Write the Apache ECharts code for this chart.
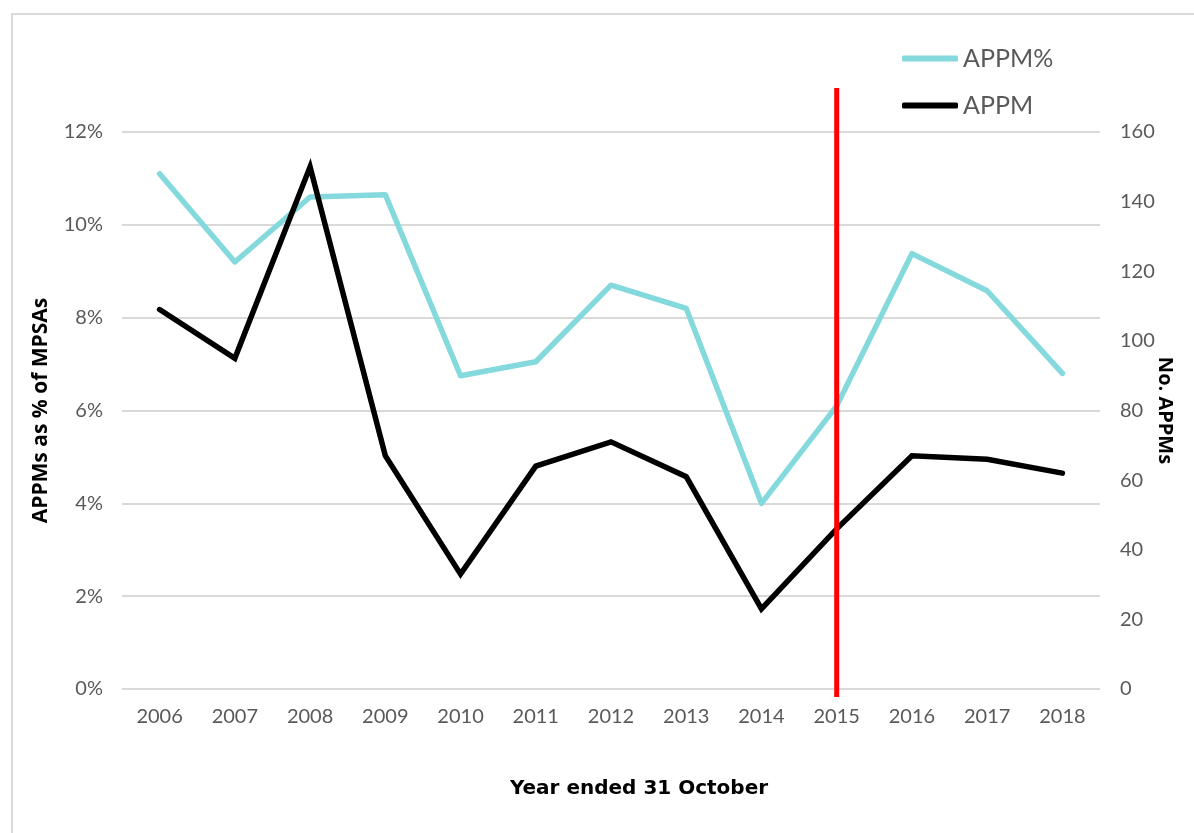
<!DOCTYPE html>
<html>
<head>
<meta charset="utf-8">
<script src="https://cdn.jsdelivr.net/npm/echarts@6/dist/echarts.min.js"></script>
<style>
html,body{margin:0;padding:0;background:#fff;}
#c{width:1194px;height:833px;}
</style>
</head>
<body>
<div id="c"></div>
<script>
var years = ['2006','2007','2008','2009','2010','2011','2012','2013','2014','2015','2016','2017','2018'];
var appmPct = [11.1, 9.2, 10.6, 10.65, 6.75, 7.05, 8.7, 8.2, 4.0, 6.1, 9.38, 8.58, 6.8];
var appmCount = [109, 95, 150, 67, 33, 64, 71, 61, 23, 46, 67, 66, 62];
var markerYear = '2015';

var chart = echarts.init(document.getElementById('c'), null, {renderer:'canvas'});
var tickFont = {color:'#595959', fontSize:20, fontFamily:'Lato'};
var option = {
  backgroundColor:'#ffffff',
  animation:false,
  graphic:[{
    type:'rect', shape:{x:12, y:14, width:1300, height:900},
    style:{fill:'none', stroke:'#d9d9d9', lineWidth:2}, silent:true, z:-1
  }],
  legend:{
    data:['APPM%','APPM'],
    orient:'vertical', left:897, top:41,
    icon:'roundRect',
    itemWidth:56, itemHeight:6, itemGap:22,
    textStyle:{color:'#595959', fontSize:25, fontFamily:'Lato'},
    inactiveColor:'#ccc'
  },
  grid:[
    {left:122, right:94, top:132, bottom:144, containLabel:false},
    {left:122, right:94, top:88, bottom:136, containLabel:false}
  ],
  xAxis:[
    {type:'category', gridIndex:0, data:years, boundaryGap:true,
     axisLine:{show:false}, axisTick:{show:false},
     axisLabel:Object.assign({margin:18}, tickFont),
     name:'Year ended 31 October', nameLocation:'middle', nameGap:90, nameMoveOverlap:false,
     nameTextStyle:{color:'#000', fontSize:20, fontWeight:'bold', fontFamily:'DejaVu Sans', padding:[0,0,0,56]}},
    {type:'category', gridIndex:0, data:years, show:false},
    {type:'category', gridIndex:1, data:years, boundaryGap:true, show:false}
  ],
  yAxis:[
    {type:'value', gridIndex:0, min:0, max:12, interval:2, position:'left',
     axisLine:{show:false}, axisTick:{show:false},
     axisLabel:Object.assign({margin:19, formatter:'{value}%'}, tickFont),
     splitLine:{lineStyle:{color:'#d9d9d9', width:2}},
     name:'APPMs as % of MPSAs', nameLocation:'middle', nameGap:70, nameMoveOverlap:false,
     nameTextStyle:{color:'#000', fontSize:21, fontWeight:'bold', fontFamily:'Open Sans'}},
    {type:'value', gridIndex:0, min:0, max:160, interval:20, position:'right',
     axisLine:{show:false}, axisTick:{show:false},
     axisLabel:Object.assign({margin:20}, tickFont),
     splitLine:{show:false},
     name:'No. APPMs', nameLocation:'middle', nameGap:55, nameRotate:-90, nameMoveOverlap:false,
     nameTextStyle:{color:'#000', fontSize:20, fontWeight:'bold', fontFamily:'Open Sans'}},
    {type:'value', gridIndex:1, min:0, max:1, show:false}
  ],
  series:[
    {name:'APPM%', type:'line', xAxisIndex:0, yAxisIndex:0, data:appmPct,
     symbol:'none', lineStyle:{color:'#84d9dd', width:5.5, cap:'round', join:'round'},
     itemStyle:{color:'#84d9dd'}, z:2},
    {name:'APPM', type:'line', xAxisIndex:0, yAxisIndex:1, data:appmCount,
     symbol:'none', lineStyle:{color:'#000000', width:5.5, cap:'round', join:'miter'},
     itemStyle:{color:'#000000'}, z:3},
    {name:'marker', type:'line', xAxisIndex:2, yAxisIndex:2,
     data:[[markerYear,0],[markerYear,1]],
     symbol:'none', lineStyle:{color:'#ff0000', width:5}, itemStyle:{color:'#ff0000'},
     clip:false, z:4, silent:true}
  ]
};
chart.setOption(option);
</script>
</body>
</html>
